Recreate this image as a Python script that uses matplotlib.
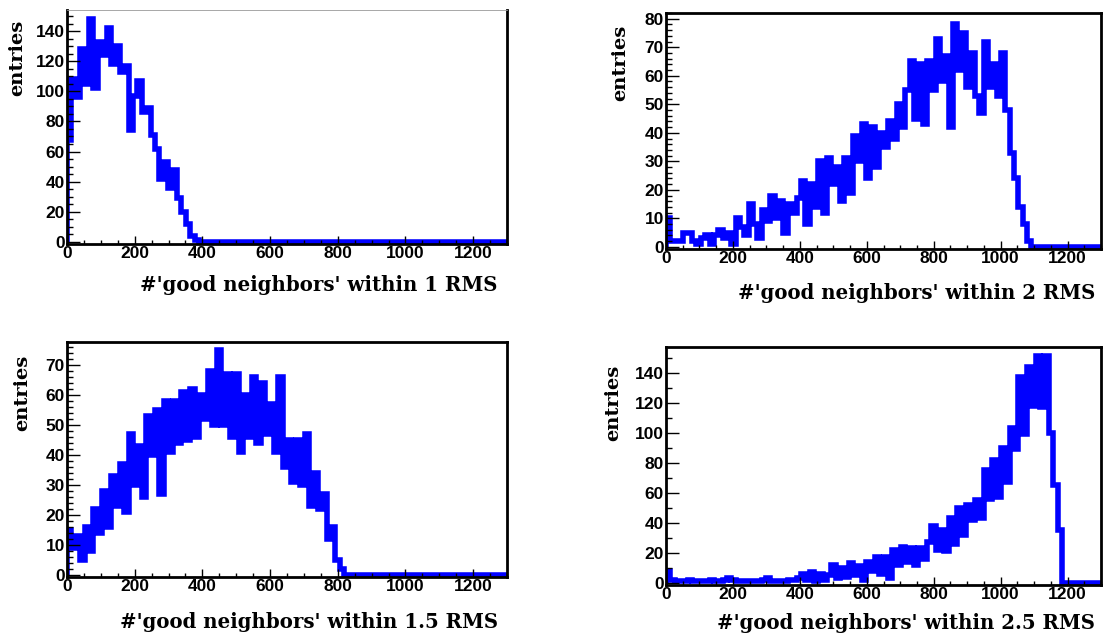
import matplotlib
matplotlib.use("Agg")
import matplotlib.pyplot as plt
import numpy as np
from matplotlib.ticker import MultipleLocator

plt.rcParams["font.family"] = ["Liberation Sans", "DejaVu Sans"]
plt.rcParams["font.weight"] = "bold"

# 100 bins from 0 to 1300
edges = np.linspace(0, 1300, 101)

h_1rms = [68, 108, 96, 128, 105, 148, 102, 133, 124, 142,
          118, 130, 113, 117, 74, 97, 107, 86, 89, 71,
          62, 42, 53, 36, 48, 29, 20, 12, 4, 1,
          0, 0, 0, 0, 0, 0, 0, 0, 0, 0,
          0, 0, 0, 0, 0, 0, 0, 0, 0, 0,
          0, 0, 0, 0, 0, 0, 0, 0, 0, 0,
          0, 0, 0, 0, 0, 0, 0, 0, 0, 0,
          0, 0, 0, 0, 0, 0, 0, 0, 0, 0,
          0, 0, 0, 0, 0, 0, 0, 0, 0, 0,
          0, 0, 0, 0, 0, 0, 0, 0, 0, 0]

h_2rms = [10, 2, 2, 2, 5, 5, 2, 1, 3, 4,
          1, 4, 6, 3, 5, 1, 10, 7, 4, 15,
          8, 3, 13, 9, 18, 10, 16, 5, 15, 12,
          17, 23, 8, 22, 14, 30, 12, 31, 22, 28,
          16, 31, 19, 39, 30, 43, 24, 42, 28, 40,
          35, 44, 38, 50, 42, 55, 65, 45, 64, 43,
          65, 55, 73, 58, 67, 42, 78, 62, 75, 56,
          68, 53, 47, 72, 56, 64, 53, 68, 48, 33,
          24, 14, 8, 2, 0, 0, 0, 0, 0, 0,
          0, 0, 0, 0, 0, 0, 0, 0, 0, 0]

h_15rms = [15, 9, 13, 5, 16, 8, 22, 14, 28, 16,
           33, 23, 37, 21, 47, 30, 43, 26, 53, 40,
           55, 27, 58, 41, 58, 44, 61, 45, 62, 46,
           60, 52, 68, 50, 75, 50, 67, 46, 67, 41,
           60, 46, 66, 44, 64, 47, 57, 41, 66, 36,
           45, 31, 45, 30, 47, 23, 34, 22, 27, 12,
           16, 5, 2, 0, 0, 0, 0, 0, 0, 0,
           0, 0, 0, 0, 0, 0, 0, 0, 0, 0,
           0, 0, 0, 0, 0, 0, 0, 0, 0, 0,
           0, 0, 0, 0, 0, 0, 0, 0, 0, 0]

h_25rms = [8, 2, 1, 1, 1, 2, 1, 1, 1, 1,
           2, 1, 1, 2, 3, 2, 1, 1, 1, 1,
           1, 1, 2, 3, 1, 1, 1, 1, 2, 2,
           3, 6, 2, 7, 1, 6, 2, 5, 12, 3,
           10, 4, 13, 5, 11, 2, 14, 8, 17, 6,
           17, 3, 22, 12, 24, 14, 23, 12, 23, 16,
           27, 38, 22, 35, 21, 43, 26, 50, 32, 52,
           42, 55, 43, 75, 56, 82, 57, 90, 67, 103,
           89, 137, 99, 144, 118, 151, 117, 151, 100, 65,
           35, 0, 0, 0, 0, 0, 0, 0, 0, 0]

W, H = 1108, 635
fig = plt.figure(figsize=(W / 100, H / 100), dpi=100)


def panel(px, vals, ymax, ymaj, ymin_step, label, lab_xy, ent_xy, thin_top=False):
    l, t, r, b = px
    ax = fig.add_axes([l / W, 1 - b / H, (r - l) / W, (b - t) / H])
    ax.stairs(vals, edges, baseline=0, color="#0000ff", lw=4.0)
    ax.set_xlim(0, 1300)
    ax.set_ylim(-0.009 * ymax, ymax)
    ax.xaxis.set_major_locator(MultipleLocator(200))
    ax.xaxis.set_minor_locator(MultipleLocator(50))
    ax.yaxis.set_major_locator(MultipleLocator(ymaj))
    ax.yaxis.set_minor_locator(MultipleLocator(ymin_step))
    ax.tick_params(which="both", direction="in", top=False, right=False,
                   width=1.0, labelsize=12.5, pad=1.5)
    ax.tick_params(axis="x", which="major", length=6)
    ax.tick_params(axis="x", which="minor", length=3)
    ax.tick_params(axis="y", which="major", length=9.5)
    ax.tick_params(axis="y", which="minor", length=4.5)
    for s in ax.spines.values():
        s.set_linewidth(2.0)
    if thin_top:
        ax.spines["top"].set_linewidth(0.6)
        ax.spines["top"].set_color("#999999")
    fig.text(lab_xy[0] / W, 1 - lab_xy[1] / H, label, ha="right", va="center",
             family="DejaVu Serif", weight="bold", fontsize=14.2)
    fig.text(ent_xy[0] / W, 1 - ent_xy[1] / H, "entries", rotation=90,
             ha="center", va="top", family="DejaVu Serif", weight="bold",
             fontsize=14)
    return ax


panel((67, 10, 507, 244), h_1rms, 154, 20, 5,
      "#'good neighbors' within 1 RMS", (498, 285), (17, 20), thin_top=True)
panel((666, 13, 1101, 249), h_2rms, 82, 10, 2,
      "#'good neighbors' within 2 RMS", (1095, 293), (620, 25))
panel((67, 342, 507, 577), h_15rms, 77.7, 10, 2,
      "#'good neighbors' within 1.5 RMS", (498, 622), (22, 355))
panel((666, 347, 1101, 585), h_25rms, 157, 20, 10,
      "#'good neighbors' within 2.5 RMS", (1095, 623), (613, 365))

fig.savefig("out.png", dpi=100)
